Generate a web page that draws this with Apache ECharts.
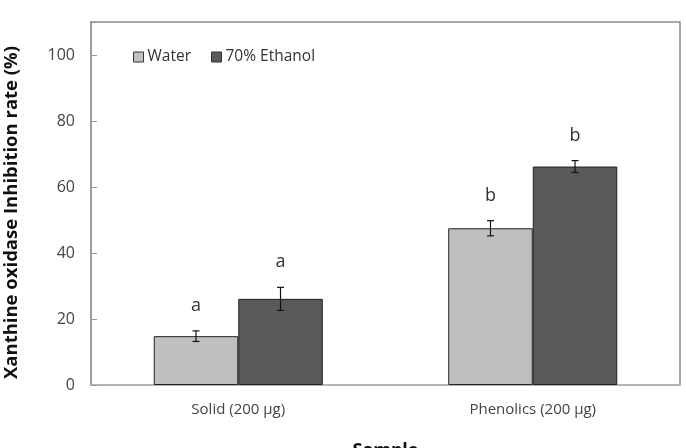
<!DOCTYPE html>
<html>
<head>
<meta charset="utf-8">
<script src="https://cdn.jsdelivr.net/npm/echarts@6/dist/echarts.min.js"></script>
<style>html,body{margin:0;padding:0;background:#fff}#c{width:686px;height:448px}</style>
</head>
<body>
<div id="c"></div>
<script>
var chart = echarts.init(document.getElementById('c'));

// data
var categories = ['Solid (200 \u03bcg)', 'Phenolics (200 \u03bcg)'];
var waterMean = [14.8, 47.5];
var waterErr = [1.6, 2.3];
var waterLetter = ['a', 'b'];
var ethanolMean = [26.1, 66.2];
var ethanolErr = [3.5, 1.8];
var ethanolLetter = ['a', 'b'];
var yTicks = [0, 20, 40, 60, 80, 100];

var FONT = 'Open Sans';
var BAR_PCT = 0.287;

function errData(mean, err, letter) {
    return mean.map(function (m, i) { return [i, m - err[i], m + err[i], letter[i]]; });
}

function errRender(side) {
    return function (params, api) {
        var band = api.size([1, 0])[0];
        var w = band * BAR_PCT;
        var c = api.coord([api.value(0), 0]);
        var x = c[0] + side * w / 2;
        var lo = api.coord([api.value(0), api.value(1)])[1];
        var hi = api.coord([api.value(0), api.value(2)])[1];
        var cap = 3.5;
        var st = { stroke: '#111', lineWidth: 1.2 };
        return {
            type: 'group',
            children: [
                { type: 'line', shape: { x1: x, y1: lo, x2: x, y2: hi }, style: st },
                { type: 'line', shape: { x1: x - cap, y1: lo, x2: x + cap, y2: lo }, style: st },
                { type: 'line', shape: { x1: x - cap, y1: hi, x2: x + cap, y2: hi }, style: st },
                { type: 'text', style: { x: x, y: hi - 25, text: api.value(3), fill: '#333',
                    font: '18px "' + FONT + '"', align: 'center', verticalAlign: 'middle' } }
            ]
        };
    };
}

var option = {
    animation: false,
    grid: { left: 91, top: 22, right: 6, bottom: 63, show: true, borderColor: '#8c8c8c', borderWidth: 1.5,
            outerBoundsMode: 'none' },
    legend: {
        left: 128, top: 44,
        icon: 'rect',
        itemWidth: 10, itemHeight: 10, itemGap: 20,
        itemStyle: { borderColor: '#333', borderWidth: 1 },
        textStyle: { fontFamily: FONT, fontSize: 15.5, color: '#333', padding: [0, 0, 0, -1] },
        data: ['Water', '70% Ethanol']
    },
    xAxis: {
        type: 'category',
        data: categories,
        name: 'Sample',
        nameLocation: 'middle',
        nameGap: 57,
        nameTextStyle: { fontFamily: FONT, fontSize: 18, fontWeight: 'bold', color: '#111' },
        axisLine: { lineStyle: { color: '#bbb', width: 1.5 } },
        axisTick: { inside: true, length: 4, lineStyle: { color: '#999' } },
        axisLabel: { fontFamily: FONT, fontSize: 15, color: '#444', margin: 17 }
    },
    yAxis: {
        type: 'value',
        min: 0, max: 110, interval: 20,
        name: 'Xanthine oxidase Inhibition rate (%)',
        nameLocation: 'middle',
        nameGap: 70,
        nameTextStyle: { fontFamily: FONT, fontSize: 18.5, fontWeight: 'bold', color: '#111', padding: [0, 18, 0, 0] },
        axisLine: { show: true, lineStyle: { color: '#999', width: 1.5 } },
        axisTick: { show: true, inside: true, length: 6, lineStyle: { color: '#999' } },
        splitLine: { show: false },
        axisLabel: {
            fontFamily: FONT, fontSize: 16, color: '#444', margin: 16,
            formatter: function (v) { return yTicks.indexOf(v) >= 0 ? String(v) : ''; }
        }
    },
    series: [
        { name: 'Water', type: 'bar', data: waterMean, barWidth: (BAR_PCT * 100) + '%', barGap: '0%',
          itemStyle: { color: '#bfbfbf', borderColor: '#222', borderWidth: 1 } },
        { name: '70% Ethanol', type: 'bar', data: ethanolMean, barWidth: (BAR_PCT * 100) + '%', barGap: '0%',
          itemStyle: { color: '#595959', borderColor: '#222', borderWidth: 1 } },
        { type: 'custom', renderItem: errRender(-1), data: errData(waterMean, waterErr, waterLetter),
          encode: { x: 0, y: [1, 2] }, z: 5, silent: true },
        { type: 'custom', renderItem: errRender(1), data: errData(ethanolMean, ethanolErr, ethanolLetter),
          encode: { x: 0, y: [1, 2] }, z: 5, silent: true }
    ]
};

chart.setOption(option);
</script>
</body>
</html>
